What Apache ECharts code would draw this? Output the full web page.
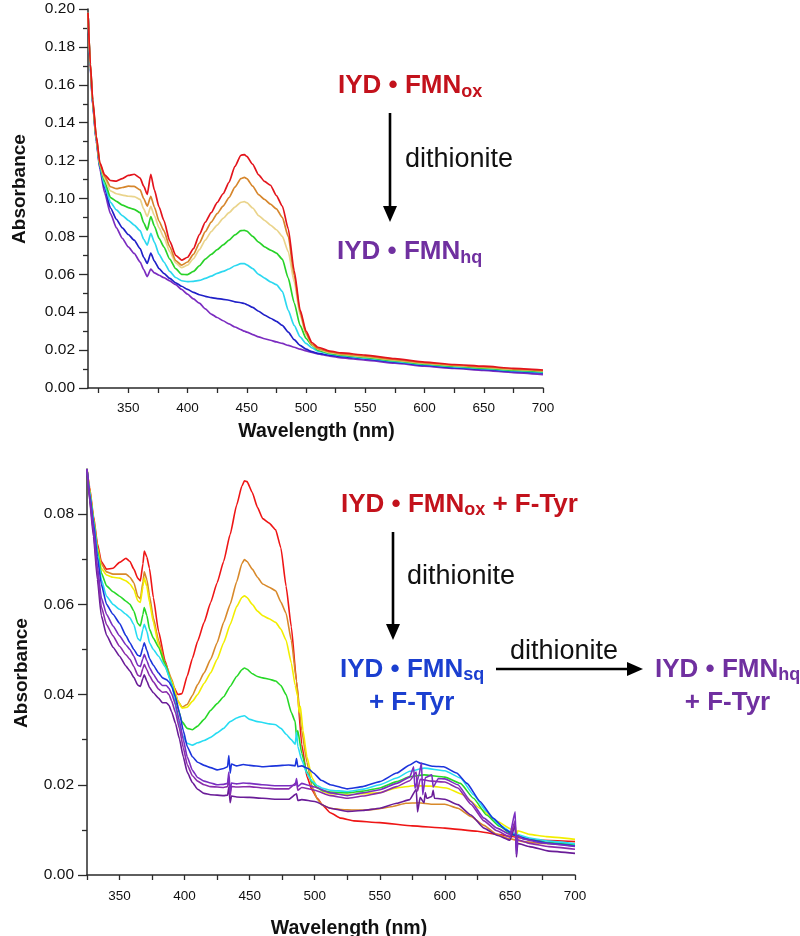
<!DOCTYPE html>
<html>
<head>
<meta charset="utf-8">
<script src="https://cdn.jsdelivr.net/npm/echarts@6/dist/echarts.min.js"></script>
<style>
html,body{margin:0;padding:0;background:#fff;}
#chart{width:800px;height:936px;}
</style>
</head>
<body>
<div id="chart"></div>
<script>
// ---------- Top panel: IYD·FMN reduction (shared wavelength grid) ----------
const topWl = [316,318,320,323,326,330,335,340,345,350,355,360,363,366,369,372,376,380,385,390,395,400,405,410,415,420,425,430,435,440,445,448,450,455,460,465,470,475,480,485,490,495,500,505,510,520,530,550,575,600,625,650,675,700];
const topRed    = [0.198,0.171,0.152,0.133,0.1190,0.1125,0.1095,0.1092,0.1105,0.1122,0.1128,0.1108,0.1065,0.1022,0.1128,0.1045,0.0955,0.0885,0.0775,0.0700,0.0675,0.0690,0.0735,0.0810,0.0875,0.0925,0.0978,0.1025,0.1085,0.1170,0.1228,0.1232,0.1222,0.1180,0.1125,0.1090,0.1070,0.1015,0.0960,0.0840,0.0620,0.0412,0.0300,0.0240,0.0215,0.0195,0.0185,0.0174,0.0155,0.0137,0.0124,0.0115,0.0104,0.0095];
const topOrange = [0.198,0.171,0.1515,0.1325,0.1185,0.1115,0.1062,0.1052,0.1058,0.1065,0.1064,0.1045,0.1000,0.0960,0.1012,0.0955,0.0880,0.0830,0.0745,0.0672,0.0648,0.0665,0.0705,0.0765,0.0825,0.0875,0.0920,0.0960,0.1005,0.1060,0.1105,0.1112,0.1105,0.1065,0.1020,0.0995,0.0970,0.0945,0.0900,0.0800,0.0595,0.0400,0.0290,0.0232,0.0208,0.0190,0.0180,0.0168,0.0150,0.0133,0.0120,0.0111,0.0100,0.0092];
const topTan    = [0.198,0.1705,0.151,0.132,0.1180,0.1105,0.1040,0.1025,0.1018,0.1012,0.1010,0.0995,0.0945,0.0905,0.0958,0.0910,0.0845,0.0795,0.0720,0.0660,0.0635,0.0648,0.0682,0.0730,0.0780,0.0825,0.0860,0.0895,0.0925,0.0955,0.0980,0.0983,0.0978,0.0950,0.0910,0.0885,0.0860,0.0835,0.0800,0.0720,0.0560,0.0385,0.0282,0.0228,0.0205,0.0187,0.0177,0.0165,0.0147,0.0130,0.0118,0.0109,0.0098,0.0090];
const topGreen  = [0.198,0.170,0.1505,0.1315,0.1175,0.109,0.1005,0.0985,0.0965,0.0952,0.0943,0.0925,0.0872,0.0834,0.0905,0.0855,0.0790,0.0745,0.0680,0.0630,0.0600,0.0598,0.0615,0.0645,0.0680,0.0705,0.0730,0.0755,0.0780,0.0808,0.0830,0.0832,0.0828,0.0800,0.0770,0.0745,0.0728,0.0712,0.0680,0.0580,0.0450,0.0330,0.0262,0.0225,0.0200,0.0183,0.0174,0.0161,0.0144,0.0127,0.0115,0.0105,0.0094,0.0086];
const topCyan   = [0.198,0.1695,0.150,0.131,0.1170,0.107,0.0980,0.0940,0.0910,0.0885,0.0860,0.0830,0.0785,0.0754,0.0816,0.0770,0.0705,0.0665,0.0615,0.0583,0.0566,0.0561,0.0563,0.0568,0.0578,0.0590,0.0605,0.0615,0.0628,0.0645,0.0656,0.0656,0.0650,0.0630,0.0600,0.0580,0.0560,0.0545,0.0510,0.0410,0.0330,0.0270,0.0235,0.0212,0.0195,0.0180,0.0171,0.0158,0.0141,0.0124,0.0112,0.0102,0.0091,0.0082];
const topBlue   = [0.198,0.169,0.1495,0.1305,0.1165,0.1055,0.0950,0.0890,0.0845,0.0810,0.0780,0.0735,0.0690,0.0658,0.0712,0.0670,0.0630,0.0605,0.0578,0.0555,0.0537,0.0520,0.0505,0.0492,0.0484,0.0477,0.0472,0.0468,0.0463,0.0455,0.0450,0.0446,0.0440,0.0425,0.0405,0.0385,0.0368,0.0352,0.0330,0.0295,0.0255,0.0225,0.0205,0.0192,0.0183,0.0173,0.0166,0.0154,0.0137,0.0121,0.0108,0.0098,0.0087,0.0078];
const topPurple = [0.198,0.1685,0.149,0.130,0.1155,0.103,0.0920,0.0845,0.0790,0.0745,0.0710,0.0665,0.0625,0.0588,0.0628,0.0608,0.0595,0.0582,0.0565,0.0545,0.0520,0.0495,0.0470,0.0448,0.0418,0.0390,0.0372,0.0355,0.0338,0.0322,0.0308,0.0300,0.0295,0.0282,0.0270,0.0260,0.0252,0.0243,0.0235,0.0225,0.0215,0.0205,0.0196,0.0188,0.0180,0.0168,0.0159,0.0147,0.0131,0.0115,0.0103,0.0093,0.0081,0.0070];

// ---------- Bottom panel: IYD·FMN + F-Tyr ([wavelength, absorbance]) ----------
const botRed = [[325,0.0900],[327,0.0860],[330,0.0796],[333,0.0735],[336,0.0695],[340,0.0678],[345,0.0680],[350,0.0693],[355,0.0702],[358,0.0695],[361,0.0678],[364,0.0658],[366,0.0652],[368,0.0690],[369,0.0718],[371,0.0705],[373,0.0680],[376,0.0615],[380,0.0540],[385,0.0475],[390,0.0425],[395,0.0400],[398,0.0402],[402,0.0441],[406,0.0480],[410,0.0518],[415,0.0560],[420,0.0604],[425,0.0648],[430,0.0695],[435,0.0755],[440,0.0820],[444,0.0862],[446,0.0874],[448,0.0872],[452,0.0848],[456,0.0815],[460,0.0790],[465,0.0780],[470,0.0765],[474,0.0725],[478,0.0640],[482,0.0550],[486,0.0430],[490,0.0290],[494,0.0218],[498,0.0188],[502,0.0170],[506,0.0155],[512,0.0138],[520,0.0126],[530,0.0120],[550,0.0116],[575,0.0109],[600,0.0104],[625,0.0097],[640,0.0090],[650,0.0086],[660,0.0081],[675,0.0077],[700,0.0074]];
const botOrange = [[325,0.0900],[327,0.0855],[330,0.0790],[333,0.0728],[336,0.0690],[340,0.0672],[345,0.0667],[350,0.0667],[355,0.0667],[358,0.0660],[361,0.0648],[364,0.0618],[366,0.0612],[368,0.0650],[369,0.0672],[371,0.0655],[373,0.0620],[376,0.0570],[380,0.0520],[385,0.0470],[390,0.0435],[395,0.0385],[398,0.0372],[402,0.0378],[406,0.0398],[410,0.0422],[415,0.0448],[420,0.0478],[425,0.0515],[430,0.0560],[435,0.0600],[440,0.0650],[444,0.0690],[446,0.0699],[448,0.0695],[452,0.0678],[456,0.0660],[460,0.0645],[465,0.0638],[470,0.0630],[474,0.0605],[478,0.0580],[482,0.0520],[486,0.0430],[490,0.0320],[494,0.0250],[498,0.0195],[502,0.0168],[506,0.0155],[512,0.0148],[520,0.0145],[530,0.0144],[540,0.0144],[550,0.0147],[560,0.0152],[570,0.0159],[580,0.0160],[590,0.0157],[600,0.0157],[610,0.0148],[620,0.0130],[630,0.0110],[640,0.0090],[650,0.0080],[660,0.0074],[675,0.0070],[700,0.0068]];
const botYellow = [[325,0.0900],[327,0.0855],[330,0.0790],[333,0.0725],[336,0.0680],[340,0.0665],[345,0.0660],[350,0.0658],[355,0.0652],[358,0.0645],[361,0.0633],[364,0.0608],[366,0.0604],[368,0.0640],[369,0.0658],[371,0.0640],[373,0.0605],[376,0.0560],[380,0.0510],[385,0.0462],[390,0.0430],[395,0.0385],[398,0.0370],[402,0.0372],[406,0.0385],[410,0.0400],[415,0.0425],[420,0.0448],[425,0.0478],[430,0.0515],[435,0.0555],[440,0.0595],[444,0.0615],[446,0.0619],[448,0.0615],[452,0.0600],[456,0.0585],[460,0.0575],[465,0.0568],[470,0.0560],[474,0.0545],[478,0.0520],[482,0.0470],[485,0.0420],[487,0.0395],[488,0.0360],[489,0.0374],[491,0.0320],[494,0.0262],[498,0.0215],[502,0.0195],[506,0.0185],[512,0.0180],[525,0.0178],[537,0.0180],[550,0.0183],[563,0.0193],[576,0.0198],[589,0.0197],[601,0.0193],[614,0.0178],[627,0.0148],[640,0.0119],[652,0.0100],[654,0.0112],[655,0.0082],[656,0.0098],[665,0.0090],[678,0.0085],[700,0.0079]];
const botGreen = [[325,0.0900],[327,0.0850],[330,0.0788],[333,0.0720],[336,0.0670],[340,0.0641],[345,0.0628],[350,0.0618],[355,0.0607],[358,0.0600],[361,0.0585],[364,0.0558],[366,0.0552],[368,0.0578],[369,0.0593],[371,0.0575],[373,0.0545],[376,0.0525],[380,0.0505],[385,0.0468],[390,0.0425],[395,0.0368],[398,0.0340],[402,0.0325],[406,0.0322],[410,0.0330],[415,0.0345],[420,0.0365],[425,0.0380],[430,0.0395],[435,0.0418],[440,0.0440],[444,0.0455],[446,0.0459],[448,0.0456],[452,0.0446],[456,0.0440],[460,0.0437],[465,0.0434],[470,0.0430],[474,0.0420],[478,0.0400],[482,0.0360],[485,0.0340],[486,0.0305],[487,0.0320],[490,0.0270],[494,0.0228],[498,0.0205],[502,0.0193],[506,0.0187],[512,0.0184],[525,0.0182],[537,0.0186],[550,0.0193],[563,0.0207],[573,0.0218],[584,0.0222],[600,0.0217],[612,0.0203],[622,0.0170],[632,0.0133],[642,0.0108],[652,0.0089],[665,0.0078],[680,0.0072],[700,0.0067]];
const botCyan = [[325,0.0900],[327,0.0850],[330,0.0785],[333,0.0715],[336,0.0655],[340,0.0618],[345,0.0600],[350,0.0589],[355,0.0578],[358,0.0570],[361,0.0555],[364,0.0524],[366,0.0519],[368,0.0545],[369,0.0556],[371,0.0540],[373,0.0515],[376,0.0500],[380,0.0485],[385,0.0462],[390,0.0425],[395,0.0345],[398,0.0310],[402,0.0292],[406,0.0288],[410,0.0293],[415,0.0298],[420,0.0305],[425,0.0315],[430,0.0325],[435,0.0340],[440,0.0348],[444,0.0352],[446,0.0353],[450,0.0345],[456,0.0340],[460,0.0338],[465,0.0335],[470,0.0333],[474,0.0325],[478,0.0312],[482,0.0300],[485,0.0290],[486,0.0317],[487,0.0285],[490,0.0255],[494,0.0225],[498,0.0208],[502,0.0198],[506,0.0192],[512,0.0188],[525,0.0185],[537,0.0190],[550,0.0200],[563,0.0215],[573,0.0230],[584,0.0237],[600,0.0231],[612,0.0215],[622,0.0178],[632,0.0141],[642,0.0111],[652,0.0093],[665,0.0082],[680,0.0075],[700,0.0069]];
const botBlue = [[325,0.0900],[327,0.0845],[330,0.0780],[333,0.0705],[336,0.0645],[340,0.0600],[345,0.0578],[350,0.0558],[355,0.0530],[358,0.0515],[361,0.0500],[364,0.0487],[366,0.0485],[368,0.0505],[369,0.0515],[371,0.0498],[373,0.0480],[376,0.0465],[380,0.0448],[383,0.0437],[386,0.0433],[388,0.0428],[390,0.0418],[393,0.0395],[396,0.0360],[399,0.0320],[402,0.0285],[406,0.0262],[410,0.0250],[415,0.0243],[420,0.0238],[425,0.0233],[430,0.0236],[433,0.0240],[434,0.0265],[435,0.0226],[436,0.0246],[440,0.0242],[445,0.0245],[450,0.0243],[460,0.0240],[470,0.0242],[480,0.0244],[485,0.0242],[486,0.0258],[487,0.0240],[490,0.0242],[495,0.0236],[499,0.0226],[505,0.0210],[512,0.0200],[525,0.0191],[537,0.0196],[550,0.0207],[563,0.0226],[573,0.0244],[578,0.0252],[581,0.0248],[591,0.0241],[599,0.0240],[609,0.0226],[617,0.0203],[627,0.0163],[637,0.0126],[647,0.0100],[653,0.0089],[665,0.0078],[680,0.0070],[700,0.0064]];
const botViolet1 = [[325,0.0900],[327,0.0840],[330,0.0770],[333,0.0685],[336,0.0615],[340,0.0578],[345,0.0552],[350,0.0530],[355,0.0510],[358,0.0500],[361,0.0485],[364,0.0465],[366,0.0462],[368,0.0480],[369,0.0489],[371,0.0475],[373,0.0460],[376,0.0445],[380,0.0428],[383,0.0420],[386,0.0420],[388,0.0414],[390,0.0402],[393,0.0378],[396,0.0342],[399,0.0300],[402,0.0262],[406,0.0232],[410,0.0216],[415,0.0208],[420,0.0204],[425,0.0200],[430,0.0201],[433,0.0203],[434,0.0228],[435,0.0182],[436,0.0204],[440,0.0202],[445,0.0204],[450,0.0203],[460,0.0200],[470,0.0198],[480,0.0198],[485,0.0199],[486,0.0214],[487,0.0196],[490,0.0203],[495,0.0199],[500,0.0195],[512,0.0182],[525,0.0176],[537,0.0182],[550,0.0189],[563,0.0203],[573,0.0217],[576,0.0240],[577,0.0192],[580,0.0220],[582,0.0248],[583,0.0178],[585,0.0216],[590,0.0222],[591,0.0195],[595,0.0214],[600,0.0213],[610,0.0200],[620,0.0163],[630,0.0126],[640,0.0104],[650,0.0090],[654,0.0140],[655,0.0046],[656,0.0088],[660,0.0080],[675,0.0071],[700,0.0063]];
const botViolet2 = [[325,0.0900],[327,0.0835],[330,0.0760],[333,0.0670],[336,0.0595],[340,0.0555],[345,0.0530],[350,0.0507],[355,0.0488],[358,0.0478],[361,0.0462],[364,0.0443],[366,0.0440],[368,0.0458],[369,0.0467],[371,0.0455],[373,0.0442],[376,0.0428],[380,0.0412],[383,0.0405],[386,0.0406],[388,0.0400],[390,0.0386],[393,0.0360],[396,0.0325],[399,0.0282],[402,0.0245],[406,0.0220],[410,0.0208],[415,0.0200],[420,0.0196],[430,0.0194],[433,0.0196],[434,0.0218],[435,0.0176],[436,0.0196],[440,0.0195],[450,0.0196],[460,0.0193],[470,0.0191],[480,0.0191],[486,0.0205],[487,0.0188],[490,0.0194],[500,0.0188],[512,0.0176],[525,0.0170],[537,0.0175],[550,0.0182],[563,0.0196],[573,0.0209],[578,0.0228],[579,0.0186],[581,0.0212],[590,0.0208],[600,0.0206],[610,0.0193],[620,0.0157],[630,0.0120],[640,0.0098],[650,0.0084],[654,0.0120],[655,0.0060],[656,0.0078],[665,0.0070],[680,0.0063],[700,0.0057]];
const botViolet3 = [[325,0.0900],[327,0.0830],[330,0.0750],[333,0.0655],[336,0.0575],[340,0.0532],[345,0.0505],[350,0.0485],[355,0.0463],[358,0.0452],[361,0.0438],[364,0.0421],[366,0.0418],[368,0.0436],[369,0.0444],[371,0.0430],[373,0.0416],[376,0.0404],[380,0.0392],[383,0.0382],[386,0.0382],[388,0.0376],[390,0.0362],[393,0.0336],[396,0.0302],[399,0.0262],[402,0.0228],[406,0.0205],[410,0.0190],[415,0.0181],[420,0.0178],[430,0.0176],[433,0.0177],[434,0.0195],[435,0.0160],[436,0.0175],[440,0.0173],[450,0.0172],[460,0.0170],[470,0.0168],[480,0.0168],[486,0.0180],[487,0.0165],[490,0.0167],[500,0.0163],[512,0.0148],[525,0.0141],[537,0.0143],[550,0.0148],[563,0.0159],[573,0.0167],[578,0.0190],[579,0.0140],[581,0.0172],[584,0.0160],[585,0.0183],[586,0.0170],[590,0.0174],[591,0.0188],[592,0.0170],[600,0.0168],[610,0.0156],[620,0.0133],[630,0.0104],[640,0.0088],[650,0.0077],[654,0.0110],[655,0.0040],[656,0.0070],[665,0.0063],[680,0.0053],[700,0.0048]];

// ---------- Tick positions ----------
const topXTicks  = [325,350,375,400,425,450,475,500,525,550,575,600,625,650,675,700];
const topXLabels = [350,400,450,500,550,600,650,700];
const botXTicks  = [325,350,375,400,425,450,475,500,525,550,575,600,625,650,675,700];
const botXLabels = [350,400,450,500,550,600,650,700];
const topYMajor = [0,0.02,0.04,0.06,0.08,0.10,0.12,0.14,0.16,0.18,0.20];
const topYMinor = [0.01,0.03,0.05,0.07,0.09,0.11,0.13,0.15,0.17,0.19];
const botYMajor = [0,0.02,0.04,0.06,0.08];
const botYMinor = [0.01,0.03,0.05,0.07];

const FONT = '"Liberation Sans", Arial, Helvetica, sans-serif';
const AX = '#2a2a2a';

function xAxisCfg(grid, min, ticks, labels, margin) {
  return {
    gridIndex: grid, type: 'value', min: min, max: 700,
    axisLine: {show: true, onZero: false, lineStyle: {color: AX, width: 1.5}},
    axisTick: {show: true, length: 5, customValues: ticks, lineStyle: {color: AX, width: 1.3}},
    axisLabel: {show: true, customValues: labels, margin: margin, fontSize: 13.5, color: '#111', fontFamily: FONT},
    splitLine: {show: false}
  };
}
function yAxisCfg(grid, max, major) {
  return {
    gridIndex: grid, type: 'value', min: 0, max: max, position: 'left',
    axisLine: {show: true, onZero: false, lineStyle: {color: AX, width: 1.5}},
    axisTick: {show: true, length: 9, customValues: major, lineStyle: {color: AX, width: 1.3}},
    axisLabel: {show: true, customValues: major, margin: 13, fontSize: 15.5, color: '#111', fontFamily: FONT,
      formatter: v => v.toFixed(2)},
    splitLine: {show: false}
  };
}
function yMinorCfg(grid, max, minor) {
  return {
    gridIndex: grid, type: 'value', min: 0, max: max, position: 'left', offset: 0,
    axisLine: {show: false},
    axisTick: {show: true, length: 5, customValues: minor, lineStyle: {color: AX, width: 1.3}},
    axisLabel: {show: false},
    splitLine: {show: false}
  };
}

function topSeries(vals, color) {
  return {type: 'line', xAxisIndex: 0, yAxisIndex: 0, data: topWl.map((w, i) => [w, vals[i]]),
    showSymbol: false, symbol: 'none', smooth: 0.2, smoothMonotone: 'x',
    lineStyle: {color: color, width: 1.7}, silent: true};
}
function botSeries(pairs, color) {
  return {type: 'line', xAxisIndex: 1, yAxisIndex: 2, data: pairs,
    showSymbol: false, symbol: 'none', smooth: 0.15, smoothMonotone: 'x',
    lineStyle: {color: color, width: 1.6}, silent: true};
}

const C_RED = '#C3121C', C_BLUE = '#1B3FD0', C_PURPLE = '#7030A0';
function label(x, y, color, parts) {
  return {type: 'text', x: x, y: y, silent: true,
    style: {text: parts, align: 'left', verticalAlign: 'top',
      rich: {
        m: {fontSize: 26, fontWeight: 'bold', fontFamily: FONT, fill: color, lineHeight: 30},
        s: {fontSize: 18, fontWeight: 'bold', fontFamily: FONT, fill: color, lineHeight: 14, verticalAlign: 'bottom'}
      }}};
}
function plain(x, y, txt, color, size, weight, align, rot) {
  return {type: 'text', x: x, y: y, rotation: rot || 0, silent: true,
    style: {text: txt, fontSize: size, fontWeight: weight, fontFamily: FONT, fill: color,
      align: align || 'left', verticalAlign: 'middle'}};
}
function vArrow(x, y1, y2) {
  return [
    {type: 'line', silent: true, shape: {x1: x, y1: y1, x2: x, y2: y2 - 14}, style: {stroke: '#000', lineWidth: 2.6}},
    {type: 'polygon', silent: true, shape: {points: [[x - 7, y2 - 16], [x + 7, y2 - 16], [x, y2]]}, style: {fill: '#000'}}
  ];
}
function hArrow(y, x1, x2) {
  return [
    {type: 'line', silent: true, shape: {x1: x1, y1: y, x2: x2 - 14, y2: y}, style: {stroke: '#000', lineWidth: 2.6}},
    {type: 'polygon', silent: true, shape: {points: [[x2 - 16, y - 7], [x2 - 16, y + 7], [x2, y]]}, style: {fill: '#000'}}
  ];
}

const chart = echarts.init(document.getElementById('chart'), null, {renderer: 'canvas'});
chart.setOption({
  animation: false,
  backgroundColor: '#ffffff',
  grid: [
    {left: 88, top: 9, width: 455, height: 379},
    {left: 87, top: 469, width: 488, height: 406}
  ],
  xAxis: [
    xAxisCfg(0, 316, topXTicks, topXLabels, 13),
    xAxisCfg(1, 325, botXTicks, botXLabels, 14)
  ],
  yAxis: [
    yAxisCfg(0, 0.20, topYMajor),
    yMinorCfg(0, 0.20, topYMinor),
    yAxisCfg(1, 0.09, botYMajor),
    yMinorCfg(1, 0.09, botYMinor)
  ],
  series: [
    topSeries(topPurple, '#7B2CC0'),
    topSeries(topBlue, '#2020C8'),
    topSeries(topCyan, '#2CD8F0'),
    topSeries(topGreen, '#28D228'),
    topSeries(topTan, '#EAD48C'),
    topSeries(topOrange, '#D6862C'),
    topSeries(topRed, '#E3141C'),
    botSeries(botRed, '#EE1515'),
    botSeries(botOrange, '#D8892A'),
    botSeries(botYellow, '#F2EE00'),
    botSeries(botGreen, '#26D826'),
    botSeries(botCyan, '#26DCF2'),
    botSeries(botBlue, '#1C34DC'),
    botSeries(botViolet3, '#6A1C98'),
    botSeries(botViolet2, '#8A2CAC'),
    botSeries(botViolet1, '#7A2EC0')
  ],
  graphic: [
    plain(20, 189, 'Absorbance', '#111', 19, 'bold', 'center', Math.PI / 2),
    plain(21.5, 673, 'Absorbance', '#111', 19, 'bold', 'center', Math.PI / 2),
    plain(316.5, 432, 'Wavelength (nm)', '#111', 19.5, 'bold', 'center'),
    plain(349, 928.5, 'Wavelength (nm)', '#111', 19.5, 'bold', 'center'),
    // top scheme
    label(338, 71, C_RED, '{m|IYD • FMN}{s|ox}'),
    ...vArrow(390, 113, 222),
    plain(405, 159.5, 'dithionite', '#111', 27, 'normal'),
    label(337, 237, C_PURPLE, '{m|IYD • FMN}{s|hq}'),
    // bottom scheme
    label(341, 489.5, C_RED, '{m|IYD • FMN}{s|ox}{m| + F-Tyr}'),
    ...vArrow(393, 532, 640),
    plain(407, 577, 'dithionite', '#111', 27, 'normal'),
    label(340, 654.5, C_BLUE, '{m|IYD • FMN}{s|sq}'),
    plain(411.7, 702.6, '+ F-Tyr', C_BLUE, 26, 'bold', 'center'),
    ...hArrow(669, 496, 643),
    plain(510, 652, 'dithionite', '#111', 27, 'normal'),
    label(655, 654.5, C_PURPLE, '{m|IYD • FMN}{s|hq}'),
    plain(727.5, 702.6, '+ F-Tyr', C_PURPLE, 26, 'bold', 'center')
  ]
});
</script>
</body>
</html>
